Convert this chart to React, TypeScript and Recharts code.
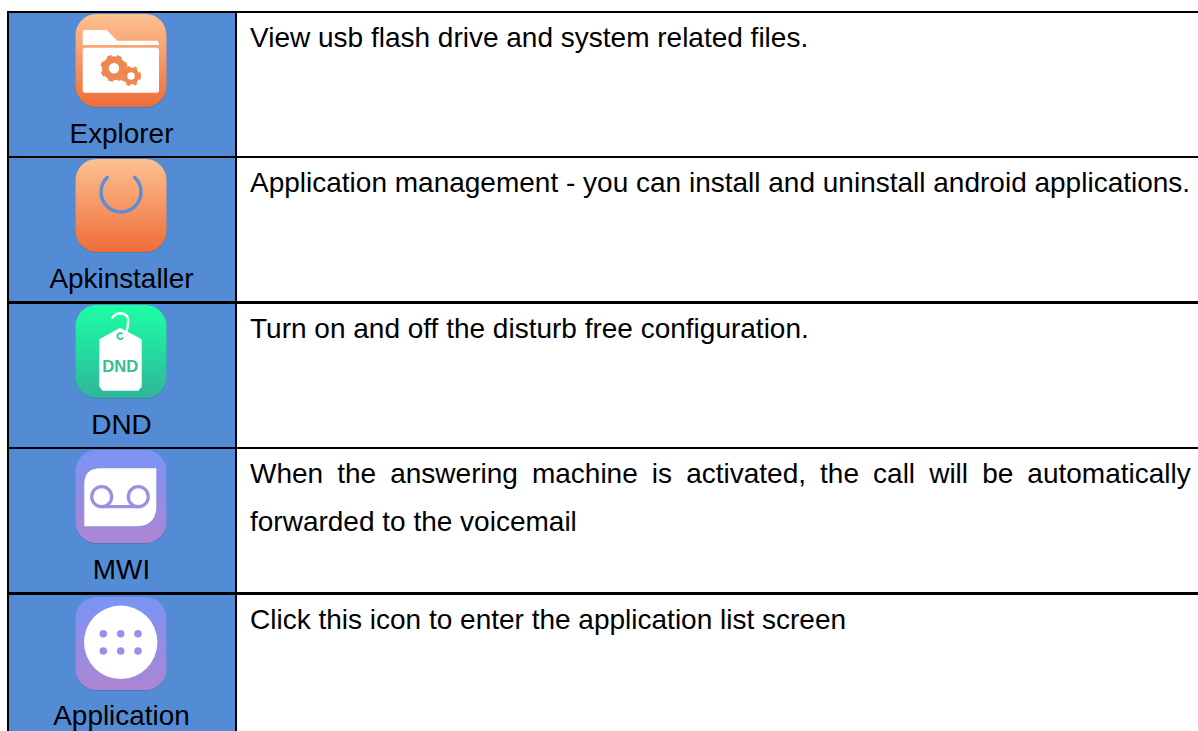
import { BarChart, Bar, XAxis, YAxis } from "recharts";

const appNames = ["Explorer", "Apkinstaller", "DND", "MWI", "Application"];
const descriptionLines = [
  ["View usb flash drive and system related files."],
  ["Application management - you can install and uninstall android applications."],
  ["Turn on and off the disturb free configuration."],
  ["When the answering machine is activated, the call will be automatically", "forwarded to the voicemail"],
  ["Click this icon to enter the application list screen"],
];
const nameColumn = [228, 228, 228, 228, 228];
const descriptionColumn = [974, 974, 974, 974, 974];

const rows = appNames.map((name, i) => ({
  name,
  lines: descriptionLines[i],
  nameColumn: nameColumn[i],
  descriptionColumn: descriptionColumn[i],
}));

const FONT = "'Liberation Sans', Arial, sans-serif";
const ICON_GRADIENTS: Record<string, string[]> = {
  Explorer: ["#FDC193", "#EE6D38"],
  Apkinstaller: ["#FDC193", "#EE6D38"],
  DND: ["#1BFFA3", "#30B59A"],
  MWI: ["#7A94F6", "#AD85D2"],
  Application: ["#7A94F6", "#AD85D2"],
};

const Gear = ({ cx, cy, r, hole }: { cx: number; cy: number; r: number; hole: number }) => {
  const ring = (r + hole) / 2;
  const tooth = (2 * Math.PI * (r + 0.5)) / 16;
  return (
    <g fill="none" stroke="#EE8850">
      <circle cx={cx} cy={cy} r={ring} strokeWidth={r - hole} />
      <circle cx={cx} cy={cy} r={r} strokeWidth={3.2} strokeDasharray={`${tooth} ${tooth}`} />
    </g>
  );
};

const IconArt = ({ name }: { name: string }) => {
  if (name === "Explorer") {
    return (
      <g>
        <path d="M7.2 18 Q7.2 16 9 16 H31.2 L41.8 26.7 H81 Q83.5 27 83.5 31 H7.2 Z" fill="#fff" />
        <rect x={7.2} y={33.7} width={76.3} height={45} rx={2.5} fill="#fff" />
        <Gear cx={38.5} cy={54.3} r={12} hole={5.2} />
        <Gear cx={55.5} cy={62} r={8.4} hole={3.8} />
      </g>
    );
  }
  if (name === "Apkinstaller") {
    return <path d="M31.8 18.4 A20 20 0 1 0 59.2 18.4" fill="none" stroke="#5A8FD4" strokeWidth={3.5} strokeLinecap="round" />;
  }
  if (name === "DND") {
    return (
      <g>
        <path d="M36.8 12.7 Q40 8.3 45 8.3 Q53 9 52.8 16 Q52.5 22 51 26.7" fill="none" stroke="#fff" strokeWidth={2.4} strokeLinecap="round" />
        <path d="M23.8 34.3 L44.5 22.7 L66.2 34.3 V81.7 L62.8 85.7 H27.2 L23.8 81.7 Z" fill="#fff" />
        <path d="M47 29 A3 3 0 1 0 47.5 32.5" fill="none" stroke="#2CC99B" strokeWidth={1.8} />
        <text x={44.8} y={66.5} textAnchor="middle" fontFamily={FONT} fontWeight={700} fontSize={16.6} fill="#34BE95">DND</text>
      </g>
    );
  }
  if (name === "MWI") {
    return (
      <g>
        <path d="M8.8 76.3 V34 Q8.8 18.3 25 18.3 H80.8 V56 Q80.8 76.3 60 76.3 Z" fill="#fff" />
        <g fill="none" stroke="#9A90E2" strokeWidth={3.2}>
          <circle cx={26.2} cy={46.7} r={10} />
          <circle cx={62.8} cy={46.7} r={10} />
          <path d="M26.2 56.7 H62.8" />
        </g>
      </g>
    );
  }
  return (
    <g>
      <circle cx={45.2} cy={45.3} r={36.7} fill="#fff" />
      {[27.8, 45.2, 62.5].map((dx) =>
        [36.7, 54].map((dy) => <circle key={`${dx}-${dy}`} cx={dx} cy={dy} r={3.8} fill="#9A90E6" />)
      )}
    </g>
  );
};

const NameCell = (props: any) => {
  const { x, y, width, height, payload } = props;
  const top = Math.round(y);
  const name = payload.name;
  const [from, to] = ICON_GRADIENTS[name];
  const iconTop = top + (name === "Application" ? 3 : 2);
  return (
    <g>
      <rect x={x} y={top} width={width} height={Math.round(y + height) - top} fill="#538CD5" stroke="#000" strokeWidth={2} />
      <defs>
        <linearGradient id={`icon-${name}`} x1="0" y1="0" x2="0" y2="1">
          <stop offset="0%" stopColor={from} />
          <stop offset="100%" stopColor={to} />
        </linearGradient>
      </defs>
      <g transform={`translate(75.5 ${iconTop})`}>
        <rect x={0} y={1} width={91} height={93} rx={21} fill="#3A5F90" opacity={0.35} />
        <rect x={0} y={0} width={91} height={93} rx={21} fill={`url(#icon-${name})`} />
        <IconArt name={name} />
      </g>
      <text x={x + 113.5} y={top + 131} textAnchor="middle" fontFamily={FONT} fontSize={27.9} fill="#000">{name}</text>
    </g>
  );
};

const DescriptionCell = (props: any) => {
  const { x, y, width, height, payload } = props;
  const top = Math.round(y);
  return (
    <g>
      <rect x={x} y={top} width={width} height={Math.round(y + height) - top} fill="#fff" stroke="#000" strokeWidth={2} />
      {payload.lines.map((line: string, i: number) => (
        <text
          key={line}
          x={250}
          y={top + 35 + i * 48}
          fontFamily={FONT}
          fontSize={28}
          fill="#000"
          style={{ wordSpacing: payload.lines.length > 1 && i === 0 ? 6.3 : 0 }}
        >
          {line}
        </text>
      ))}
    </g>
  );
};

export default function App() {
  return (
    <div style={{ position: "fixed", left: 0, top: 0, width: 1198, height: 731, overflow: "hidden", background: "#fff" }}>
      <BarChart
        width={1210}
        height={760}
        data={rows}
        layout="vertical"
        barCategoryGap={0}
        margin={{ top: 12, right: 0, bottom: 21, left: 8 }}
      >
        <XAxis type="number" hide domain={[0, 1202]} />
        <YAxis type="category" dataKey="name" hide />
        <Bar dataKey="nameColumn" stackId="table" isAnimationActive={false} shape={NameCell} />
        <Bar dataKey="descriptionColumn" stackId="table" isAnimationActive={false} shape={DescriptionCell} />
      </BarChart>
    </div>
  );
}
